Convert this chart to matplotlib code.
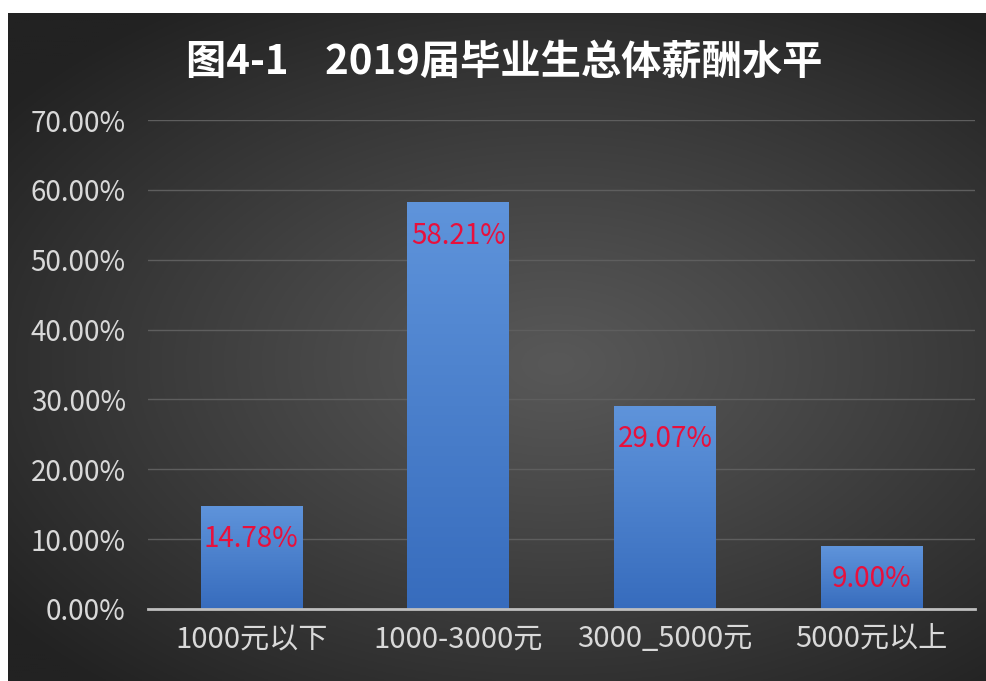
import numpy as np
import matplotlib.pyplot as plt
from matplotlib.ticker import FuncFormatter

plt.rcParams['font.family'] = ['Noto Sans CJK SC', 'DejaVu Sans']

title = '图4-1    2019届毕业生总体薪酬水平'
categories = ['1000元以下', '1000-3000元', '3000_5000元', '5000元以上']
shares = [14.78, 58.21, 29.07, 9.00]
yticks = [0, 10, 20, 30, 40, 50, 60, 70]

fig = plt.figure(figsize=(9.87, 6.81), dpi=100)

# dark panel with a soft radial glow
bg = fig.add_axes([8 / 987, 0, 979 / 987, 668 / 681])
bg.set_axis_off()
yy, xx = np.mgrid[-1:1:340j, -1:1:490j]
r = np.sqrt(((xx - 0.12) * 0.95) ** 2 + ((yy - 0.05) * 1.05) ** 2)
r = np.clip(r / 1.35, 0, 1)
c = (0x58 - (0x58 - 0x22) * r ** 1.1) / 255
bg.imshow(np.dstack([c, c, c]), aspect='auto', extent=[0, 1, 0, 1])
bg.set_xlim(0, 1)
bg.set_ylim(0, 1)

ax = fig.add_axes([148 / 987, 1 - 609 / 681, 827 / 987, 489 / 681])
ax.set_facecolor('none')
x = np.arange(len(categories))
bars = ax.bar(x, shares, width=0.49, color='none', zorder=3)

# vertical blue gradient inside each bar
grad = np.linspace(0, 1, 256).reshape(-1, 1)
top = np.array([0x5f, 0x94, 0xdb]) / 255
bot = np.array([0x37, 0x6c, 0xbd]) / 255
cols = bot + (top - bot) * grad[..., None]
for b in bars:
    x0, y0 = b.get_x(), b.get_y()
    im = ax.imshow(cols, origin='lower', aspect='auto', zorder=3,
                   extent=[x0, x0 + b.get_width(), y0, y0 + b.get_height()])
    im.set_clip_path(b)

for xi, v in zip(x, shares):
    ax.annotate('%.2f%%' % v, (xi, v), xytext=(0, -24), textcoords='offset points',
                ha='center', va='center', color='#e8103c', fontsize=20, zorder=4)

ax.set_xlim(-0.5, len(categories) - 0.5)
ax.set_ylim(0, 70)
ax.set_yticks(yticks)
ax.yaxis.set_major_formatter(FuncFormatter(lambda v, p: '%.2f%%' % v))
ax.set_xticks(x)
ax.set_xticklabels(categories)
ax.grid(axis='y', color='#5e5e5e', linewidth=1, zorder=1)
ax.tick_params(axis='y', length=0, pad=16, labelsize=20, labelcolor='#d9d9d9')
ax.tick_params(axis='x', length=0, pad=11, labelsize=21, labelcolor='#d9d9d9')
for s in ['top', 'right', 'left']:
    ax.spines[s].set_visible(False)
ax.spines['bottom'].set_color('#bfbfbf')
ax.spines['bottom'].set_linewidth(2)
ax.spines['bottom'].set_zorder(5)

fig.text(504 / 987, 1 - 62 / 681, title, ha='center', va='center',
         color='white', fontsize=29, fontweight='bold')

fig.savefig('out.png', facecolor='white')
